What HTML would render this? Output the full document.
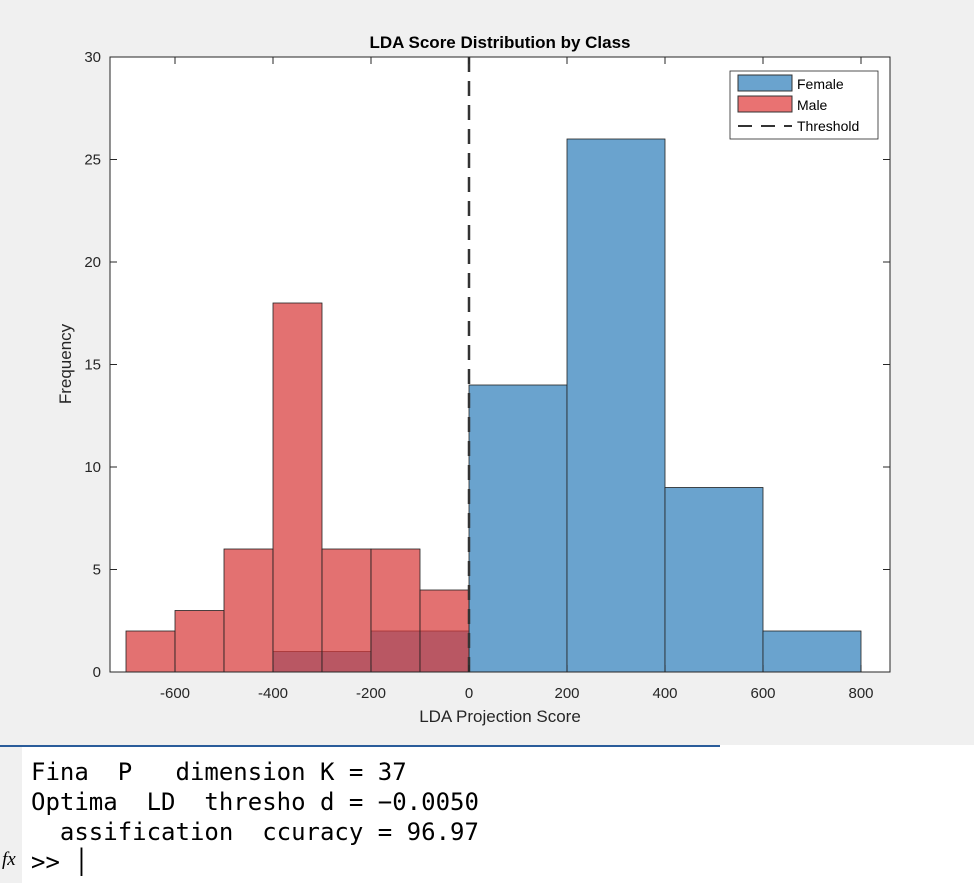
<!DOCTYPE html>
<html><head><meta charset="utf-8"><style>
body{margin:0;width:974px;height:883px;overflow:hidden;background:#fff;font-family:"Liberation Sans",sans-serif}
#fig{position:absolute;left:0;top:0;width:974px;height:745px;background:#f0f0f0}
#con{position:absolute;left:0;top:747px;width:974px;height:136px;background:#fff}
.ln{position:absolute;left:31px;font-family:"DejaVu Sans Mono","Liberation Mono",monospace;font-size:24px;color:#000;white-space:pre}
</style></head><body>
<div id="fig">
<svg width="974" height="745">
<rect x="110" y="57" width="780" height="615" fill="#fff"/>
<g id="bars"></g>
<g id="ticks"></g>
<rect x="110" y="57" width="780" height="615" fill="none" stroke="#262626" stroke-width="1"/>
<text x="500" y="48" text-anchor="middle" font-size="17" font-weight="bold">LDA Score Distribution by Class</text>
<text x="500" y="722" text-anchor="middle" font-size="17" fill="#262626">LDA Projection Score</text>
<text x="71" y="364" text-anchor="middle" font-size="17" fill="#262626" transform="rotate(-90 71 364)">Frequency</text>
<g>
<rect x="730" y="71" width="148" height="68" fill="#fff" stroke="#262626" stroke-width="0.8"/>
<rect x="738" y="75" width="54" height="16" fill="#6aa3ce" stroke="#333"/>
<text x="797" y="89" font-size="14">Female</text>
<rect x="738" y="96" width="54" height="16" fill="#e97272" stroke="#333"/>
<text x="797" y="110" font-size="14">Male</text>
<line x1="738" y1="126" x2="792" y2="126" stroke="#333" stroke-width="2" stroke-dasharray="14,9"/>
<text x="797" y="131" font-size="14">Threshold</text>
</g>
</svg>
</div>
<div style="position:absolute;left:0;top:745px;width:720px;height:2px;background:#2a5c9a"></div>
<div id="con">
<div style="position:absolute;left:0;top:0;width:22px;height:136px;background:#f0f0f0"></div>
<div class="ln" style="top:11px">Fina  P   dimension K = 37</div>
<div class="ln" style="top:41px">Optima  LD  thresho d = −0.0050</div>
<div class="ln" style="top:71px">  assification  ccuracy = 96.97</div>
<div style="position:absolute;left:2px;top:102px;font-family:'Liberation Serif',serif;font-style:italic;font-size:19px">fx</div>
<div class="ln" style="top:101px">&gt;&gt; │</div>
</div>
<script>
const maleEdges=[-700,-600,-500,-400,-300,-200,-100,0];
const maleCounts=[2,3,6,18,6,6,4];
const femEdges=[-400,-300,-200,-100,0,200,400,600,800];
const femCounts=[1,1,2,2,14,26,9,2];
const xTicks=[-600,-400,-200,0,200,400,600,800];
const yTicks=[0,5,10,15,20,25,30];
const threshold=-0.005;
const X=v=>469+v*0.49, Y=v=>672-v*20.5;
const NS="http://www.w3.org/2000/svg";
const bars=document.getElementById('bars'), tk=document.getElementById('ticks');
function mk(t,a,p){const e=document.createElementNS(NS,t);for(const k in a)e.setAttribute(k,a[k]);p.appendChild(e);return e;}
femCounts.forEach((c,i)=>{const r=mk('rect',{x:X(femEdges[i]),y:Y(c),width:X(femEdges[i+1])-X(femEdges[i]),height:Y(0)-Y(c),fill:'#6aa3ce',stroke:'#222','stroke-width':0.8},bars);

});
maleCounts.forEach((c,i)=>{const r=mk('rect',{x:X(maleEdges[i]),y:Y(c),width:X(maleEdges[i+1])-X(maleEdges[i]),height:Y(0)-Y(c),fill:'#d83a3a','fill-opacity':0.72,stroke:'#222','stroke-width':0.8},bars);

});
const th=mk('line',{x1:X(threshold),x2:X(threshold),y1:57,y2:672,stroke:'#333','stroke-width':2.5,'stroke-dasharray':'15,9'},bars);


xTicks.forEach(v=>{mk('line',{x1:X(v),x2:X(v),y1:672,y2:665,stroke:'#262626'},tk);mk('line',{x1:X(v),x2:X(v),y1:57,y2:64,stroke:'#262626'},tk);
const t=mk('text',{x:X(v),y:698,'text-anchor':'middle','font-size':15,fill:'#262626'},tk);t.textContent=v;

});
yTicks.forEach(v=>{mk('line',{x1:110,x2:117,y1:Y(v),y2:Y(v),stroke:'#262626'},tk);mk('line',{x1:883,x2:890,y1:Y(v),y2:Y(v),stroke:'#262626'},tk);
const t=mk('text',{x:101,y:Y(v)+5,'text-anchor':'end','font-size':15,fill:'#262626'},tk);t.textContent=v;

});
</script>
</body></html>
